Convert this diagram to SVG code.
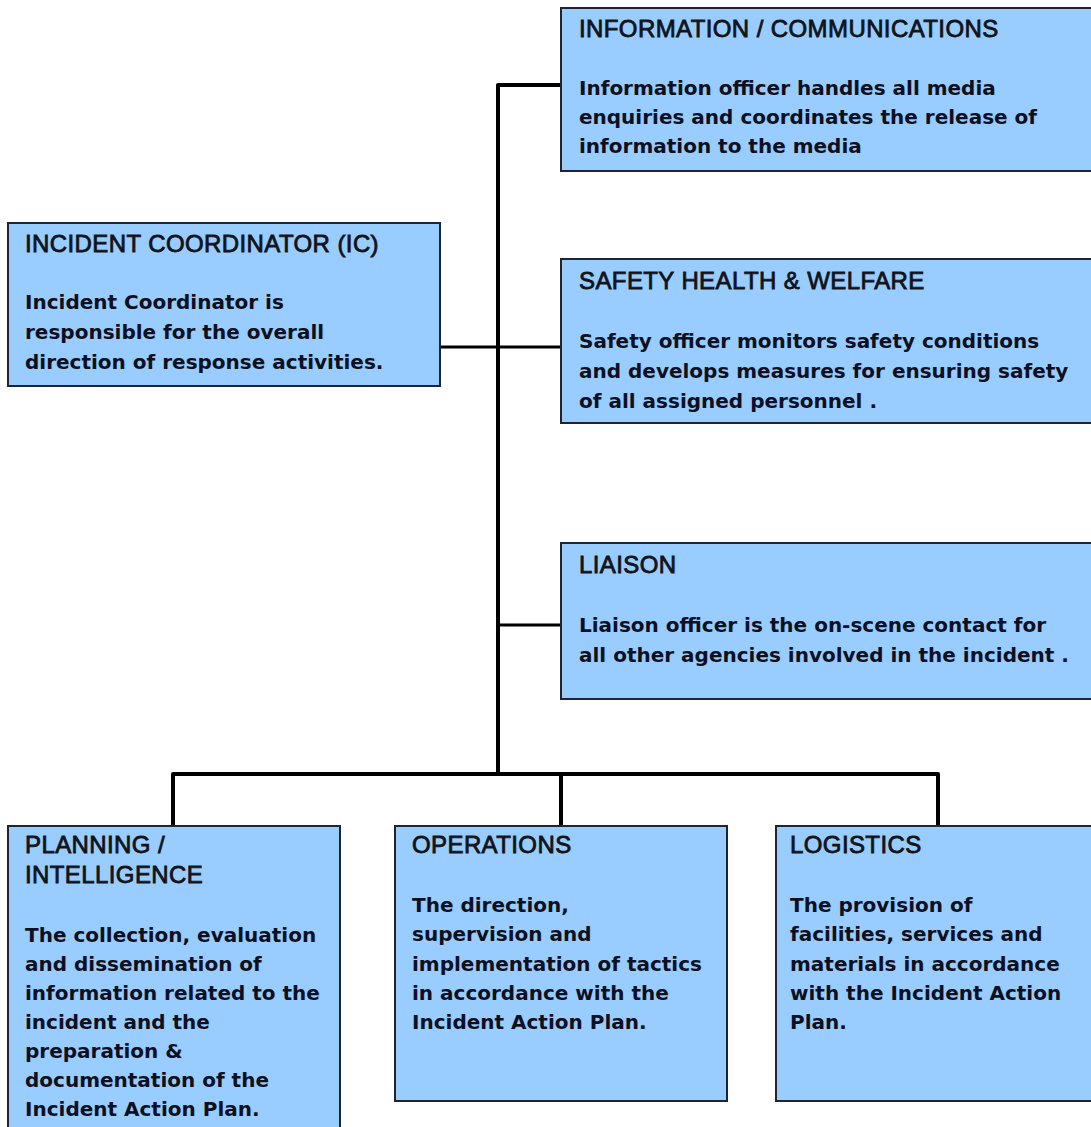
<svg xmlns="http://www.w3.org/2000/svg" width="1091" height="1127" viewBox="0 0 1091 1127">
<style>
.box{fill:#99CCFF;stroke:#1f2430;stroke-width:2}
.t{font-family:"Liberation Sans",Arial,sans-serif;font-size:24px;letter-spacing:0.4px;fill:#111318;stroke:#111318;stroke-width:0.8}
.b{font-family:"DejaVu Sans",Verdana,sans-serif;font-weight:bold;font-size:20px;fill:#0e1020}
.c{fill:none;stroke:#000;stroke-width:4;stroke-linejoin:round}
.c2{fill:none;stroke:#000;stroke-width:3}
</style>
<rect width="1091" height="1127" fill="#fff"/>
<g id="connectors">
<path class="c" d="M561,85 H498 V774"/>
<path class="c2" d="M440,347 H561"/>
<path class="c2" d="M498,625 H561"/>
<path class="c" d="M173,826 V774 H938 V826"/>
<path class="c" d="M561,774 V826"/>
</g>
<g id="info">
<rect class="box" x="561" y="8" width="540" height="163"/>
<text class="t" x="579" y="37">INFORMATION / COMMUNICATIONS</text>
<text class="b" x="579" y="95">Information officer handles all media</text>
<text class="b" x="579" y="124">enquiries and coordinates the release of</text>
<text class="b" x="579" y="153">information to the media</text>
</g>
<g id="ic">
<rect class="box" x="8" y="223" width="432" height="163"/>
<text class="t" x="25" y="252">INCIDENT COORDINATOR (IC)</text>
<text class="b" x="25" y="309">Incident Coordinator is</text>
<text class="b" x="25" y="339">responsible for the overall</text>
<text class="b" x="25" y="369">direction of response activities.</text>
</g>
<g id="safety">
<rect class="box" x="561" y="259" width="540" height="164"/>
<text class="t" x="579" y="289">SAFETY HEALTH &amp; WELFARE</text>
<text class="b" x="579" y="348">Safety officer monitors safety conditions</text>
<text class="b" x="579" y="378">and develops measures for ensuring safety</text>
<text class="b" x="579" y="408">of all assigned personnel .</text>
</g>
<g id="liaison">
<rect class="box" x="561" y="543" width="540" height="156"/>
<text class="t" x="579" y="573">LIAISON</text>
<text class="b" x="579" y="632">Liaison officer is the on-scene contact for</text>
<text class="b" x="579" y="662">all other agencies involved in the incident .</text>
</g>
<g id="planning">
<rect class="box" x="8" y="826" width="332" height="320"/>
<text class="t" x="25" y="853">PLANNING /</text>
<text class="t" x="25" y="883">INTELLIGENCE</text>
<text class="b" x="25" y="942">The collection, evaluation</text>
<text class="b" x="25" y="971">and dissemination of</text>
<text class="b" x="25" y="1000">information related to the</text>
<text class="b" x="25" y="1029">incident and the</text>
<text class="b" x="25" y="1058">preparation &amp;</text>
<text class="b" x="25" y="1087">documentation of the</text>
<text class="b" x="25" y="1116">Incident Action Plan.</text>
</g>
<g id="operations">
<rect class="box" x="395" y="826" width="332" height="275"/>
<text class="t" x="412" y="853">OPERATIONS</text>
<text class="b" x="412" y="912">The direction,</text>
<text class="b" x="412" y="941">supervision and</text>
<text class="b" x="412" y="971">implementation of tactics</text>
<text class="b" x="412" y="1000">in accordance with the</text>
<text class="b" x="412" y="1029">Incident Action Plan.</text>
</g>
<g id="logistics">
<rect class="box" x="776" y="826" width="330" height="275"/>
<text class="t" x="790" y="853">LOGISTICS</text>
<text class="b" x="790" y="912">The provision of</text>
<text class="b" x="790" y="941">facilities, services and</text>
<text class="b" x="790" y="971">materials in accordance</text>
<text class="b" x="790" y="1000">with the Incident Action</text>
<text class="b" x="790" y="1029">Plan.</text>
</g>
</svg>
